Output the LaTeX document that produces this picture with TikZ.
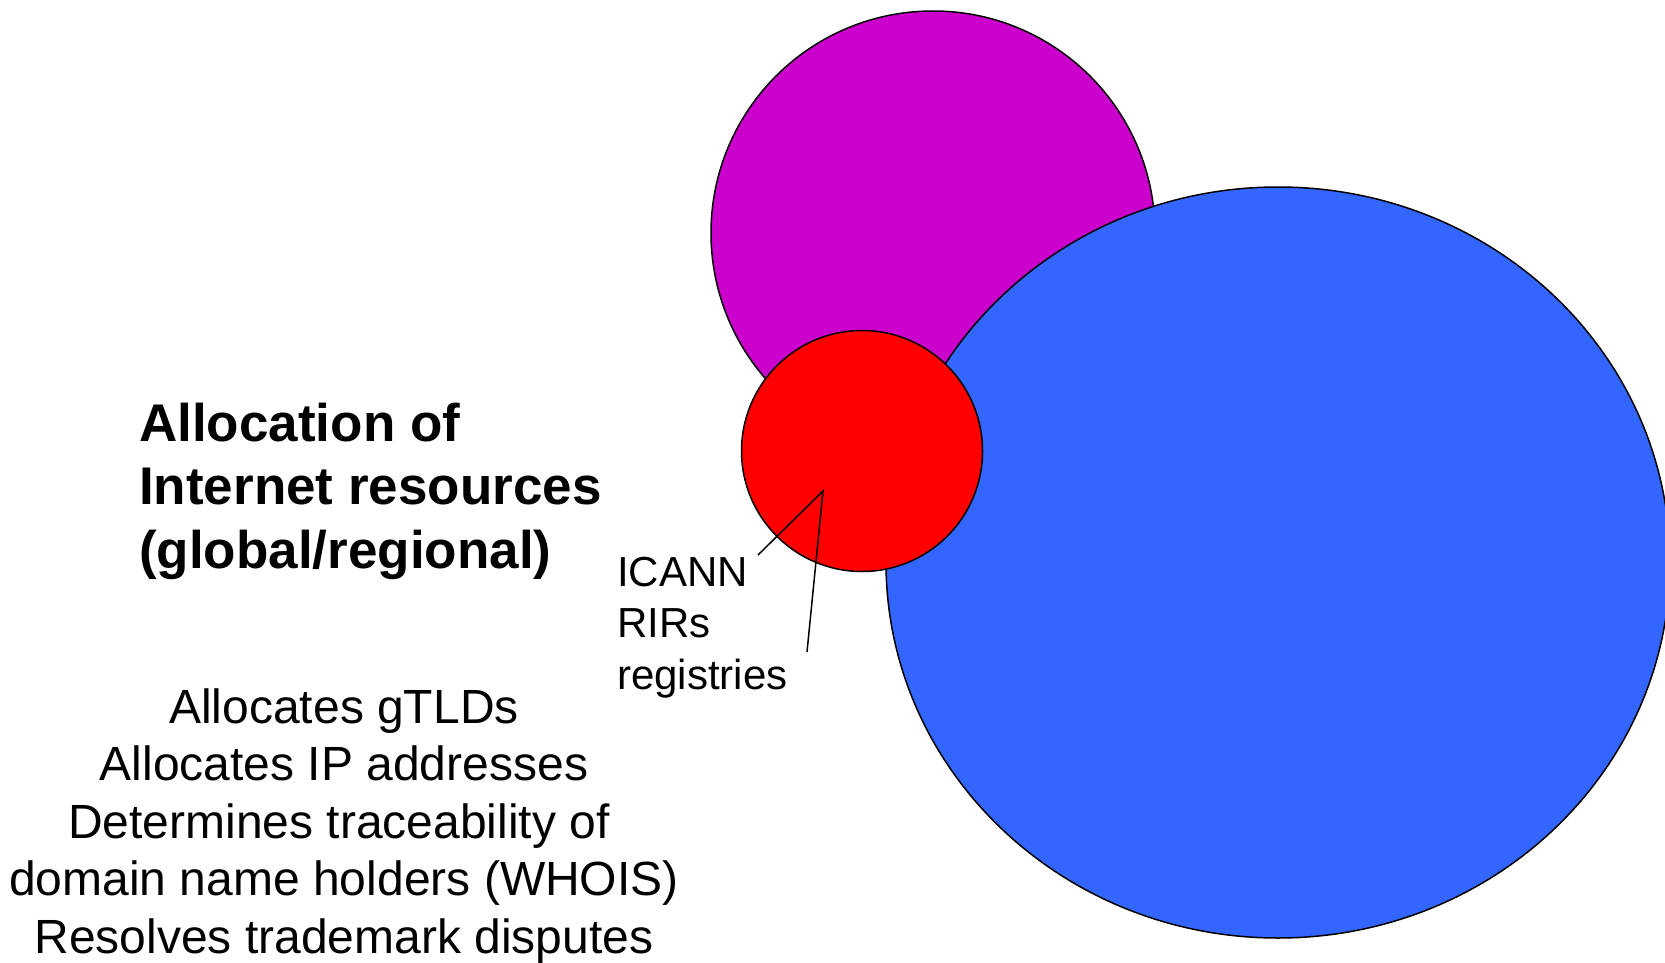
\documentclass[tikz,border=0pt]{standalone}
\usepackage{fontspec}
\setmainfont{Liberation Sans}
\definecolor{orgmagenta}{HTML}{CC00CC}
\definecolor{orgred}{HTML}{FF0000}
\definecolor{orgblue}{HTML}{3366FF}
\tikzset{
  disc/.style={draw=black, line width=1.5pt},
  titleline/.style={anchor=base west, inner sep=0pt, font=\fontsize{53}{64}\selectfont\bfseries},
  roleline/.style={anchor=base, inner sep=0pt, font=\fontsize{48}{58}\selectfont},
  nameline/.style={anchor=base west, inner sep=0pt, font=\fontsize{42}{50}\selectfont},
  pointer/.style={draw=black, line width=1.5pt}
}
\begin{document}
\begin{tikzpicture}[x=1pt, y=-1pt]
  \useasboundingbox (0,0) rectangle (1665,963);
  % three overlapping areas
  \filldraw[disc, fill=orgmagenta] (933,233) circle [radius=222];
  \begin{scope}
    \clip (0,0) rectangle (1665,963);
    \filldraw[disc, fill=orgblue] (1278,562.5) ellipse [x radius=392, y radius=375.5];
  \end{scope}
  \filldraw[disc, fill=orgred] (862,451) circle [radius=120.5];

  % heading
  \node[titleline] (t1) at (139,441) {Allocation of};
  \node[titleline] (t2) at (139,504.5) {Internet resources};
  \node[titleline] (t3) at (139,568) {(global/regional)};

  % roles
  \node[roleline] (r1) at (344,723) {Allocates gTLDs};
  \node[roleline] (r2) at (344,780.5) {Allocates IP addresses};
  \node[roleline] (r3) at (339,838) {Determines traceability of};
  \node[roleline] (r4) at (344,895.5) {domain name holders (WHOIS)};
  \node[roleline] (r5) at (344,953) {Resolves trademark disputes};

  % actors
  \node[nameline] (n1) at (617,586) {ICANN};
  \node[nameline] (n2) at (617,637.5) {RIRs};
  \node[nameline] (n3) at (617,689) {registries};

  % pointer into the red area
  \coordinate (pa) at (758,555);
  \coordinate (pb) at (823,491);
  \coordinate (pc) at (807,652);
  \draw[pointer] (pa) -- (pb) -- (pc);
\end{tikzpicture}
\end{document}
